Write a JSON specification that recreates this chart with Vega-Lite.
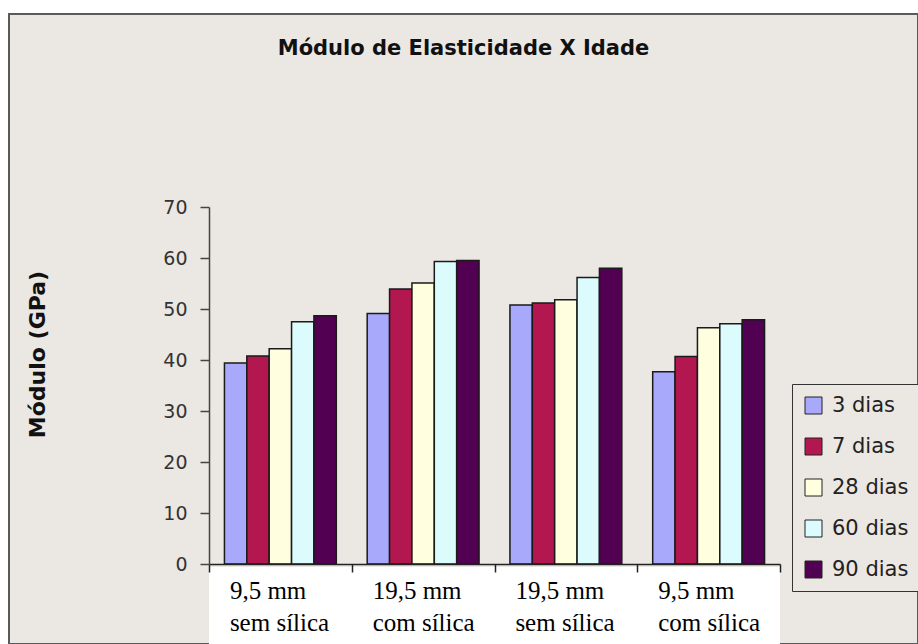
{
  "$schema": "https://vega.github.io/schema/vega-lite/v6.json",
  "autosize": {"type": "none"},
  "padding": {"left": 9, "top": 14, "right": 0, "bottom": 0},
  "width": 909,
  "height": 630,
  "background": "white",
  "config": {
    "view": {"fill": "#ebe7e3", "stroke": "#5a5a5a", "strokeWidth": 2},
    "axis": {"grid": false}
  },
  "title": {
    "text": "Módulo de Elasticidade X Idade",
    "font": "DejaVu Sans",
    "fontSize": 21,
    "fontWeight": "bold",
    "color": "#111111",
    "anchor": "middle",
    "baseline": "alphabetic",
    "offset": 0,
    "dy": 62
  },
  "data": {
    "values": [
      {"grupo": "9,5 mm sem sílica", "idade": "3 dias", "modulo": 39.4},
      {"grupo": "9,5 mm sem sílica", "idade": "7 dias", "modulo": 40.8},
      {"grupo": "9,5 mm sem sílica", "idade": "28 dias", "modulo": 42.2},
      {"grupo": "9,5 mm sem sílica", "idade": "60 dias", "modulo": 47.5},
      {"grupo": "9,5 mm sem sílica", "idade": "90 dias", "modulo": 48.7},
      {"grupo": "19,5 mm com sílica", "idade": "3 dias", "modulo": 49.1},
      {"grupo": "19,5 mm com sílica", "idade": "7 dias", "modulo": 53.9},
      {"grupo": "19,5 mm com sílica", "idade": "28 dias", "modulo": 55.1},
      {"grupo": "19,5 mm com sílica", "idade": "60 dias", "modulo": 59.3},
      {"grupo": "19,5 mm com sílica", "idade": "90 dias", "modulo": 59.5},
      {"grupo": "19,5 mm sem sílica", "idade": "3 dias", "modulo": 50.8},
      {"grupo": "19,5 mm sem sílica", "idade": "7 dias", "modulo": 51.2},
      {"grupo": "19,5 mm sem sílica", "idade": "28 dias", "modulo": 51.8},
      {"grupo": "19,5 mm sem sílica", "idade": "60 dias", "modulo": 56.2},
      {"grupo": "19,5 mm sem sílica", "idade": "90 dias", "modulo": 58.0},
      {"grupo": "9,5 mm com sílica", "idade": "3 dias", "modulo": 37.7},
      {"grupo": "9,5 mm com sílica", "idade": "7 dias", "modulo": 40.7},
      {"grupo": "9,5 mm com sílica", "idade": "28 dias", "modulo": 46.3},
      {"grupo": "9,5 mm com sílica", "idade": "60 dias", "modulo": 47.1},
      {"grupo": "9,5 mm com sílica", "idade": "90 dias", "modulo": 47.9}
    ]
  },
  "encoding": {
    "x": {
      "field": "grupo",
      "type": "nominal",
      "sort": ["9,5 mm sem sílica", "19,5 mm com sílica", "19,5 mm sem sílica", "9,5 mm com sílica"],
      "scale": {"range": [200, 771], "paddingInner": 0, "paddingOuter": 0},
      "axis": {
        "orient": "bottom",
        "offset": -80,
        "title": null,
        "zindex": 1,
        "domainColor": "#222222",
        "domainWidth": 1.5,
        "tickColor": "#222222",
        "tickWidth": 1.5,
        "tickSize": 8,
        "tickBand": "extent",
        "labelFont": "Liberation Serif",
        "labelFontSize": 25,
        "labelColor": "#000000",
        "labelAngle": 0,
        "labelAlign": "left",
        "labelBaseline": "alphabetic",
        "labelOffset": -51,
        "labelPadding": 26,
        "labelLineHeight": 32,
        "labelLimit": 0,
        "labelOverlap": false,
        "labelFlush": false,
        "labelExpr": "split(replace(datum.label, 'mm ', 'mm|'), '|')"
      }
    },
    "y": {
      "field": "modulo",
      "type": "quantitative",
      "scale": {"domain": [0, 70], "range": [550, 193], "nice": false, "zero": true},
      "axis": {
        "orient": "left",
        "offset": -200,
        "zindex": 1,
        "values": [0, 10, 20, 30, 40, 50, 60, 70],
        "title": "Módulo (GPa)",
        "titleFont": "DejaVu Sans",
        "titleFontSize": 22,
        "titleFontWeight": "bold",
        "titleColor": "#111111",
        "titleAngle": -90,
        "titleAlign": "center",
        "titleBaseline": "middle",
        "titleX": -172,
        "titleY": 340,
        "domainColor": "#4a423d",
        "domainWidth": 1.5,
        "tickColor": "#4a423d",
        "tickWidth": 1.5,
        "tickSize": 9,
        "labelFont": "DejaVu Sans",
        "labelFontSize": 19,
        "labelColor": "#333333",
        "labelPadding": 13
      }
    }
  },
  "layer": [
    {
      "mark": {"type": "rect", "fill": "white", "stroke": null},
      "encoding": {
        "y": {"datum": -0.6},
        "y2": {"datum": -16}
      }
    },
    {
      "mark": {"type": "bar", "stroke": "#1a1a1a", "strokeWidth": 1.5},
      "encoding": {
        "xOffset": {
          "field": "idade",
          "type": "nominal",
          "sort": ["3 dias", "7 dias", "28 dias", "60 dias", "90 dias"],
          "scale": {"paddingInner": 0, "paddingOuter": 0.69}
        },
        "y": {"field": "modulo", "type": "quantitative"},
        "color": {
          "field": "idade",
          "type": "nominal",
          "sort": ["3 dias", "7 dias", "28 dias", "60 dias", "90 dias"],
          "scale": {
            "domain": ["3 dias", "7 dias", "28 dias", "60 dias", "90 dias"],
            "range": ["#a9a9fb", "#b3174f", "#ffffe0", "#dcfbfd", "#510052"]
          },
          "legend": {
            "orient": "none",
            "legendX": 783,
            "legendY": 370,
            "title": null,
            "symbolType": "square",
            "symbolSize": 289,
            "symbolStrokeColor": "#222222",
            "symbolStrokeWidth": 1,
            "symbolOpacity": 1,
            "labelFont": "DejaVu Sans",
            "labelFontSize": 21,
            "labelColor": "#222222",
            "labelOffset": 8,
            "rowPadding": 19,
            "padding": 11,
            "fillColor": "#ebe7e3",
            "strokeColor": "#333333",
            "labelExpr": "datum.label + '        '"
          }
        }
      }
    }
  ]
}
